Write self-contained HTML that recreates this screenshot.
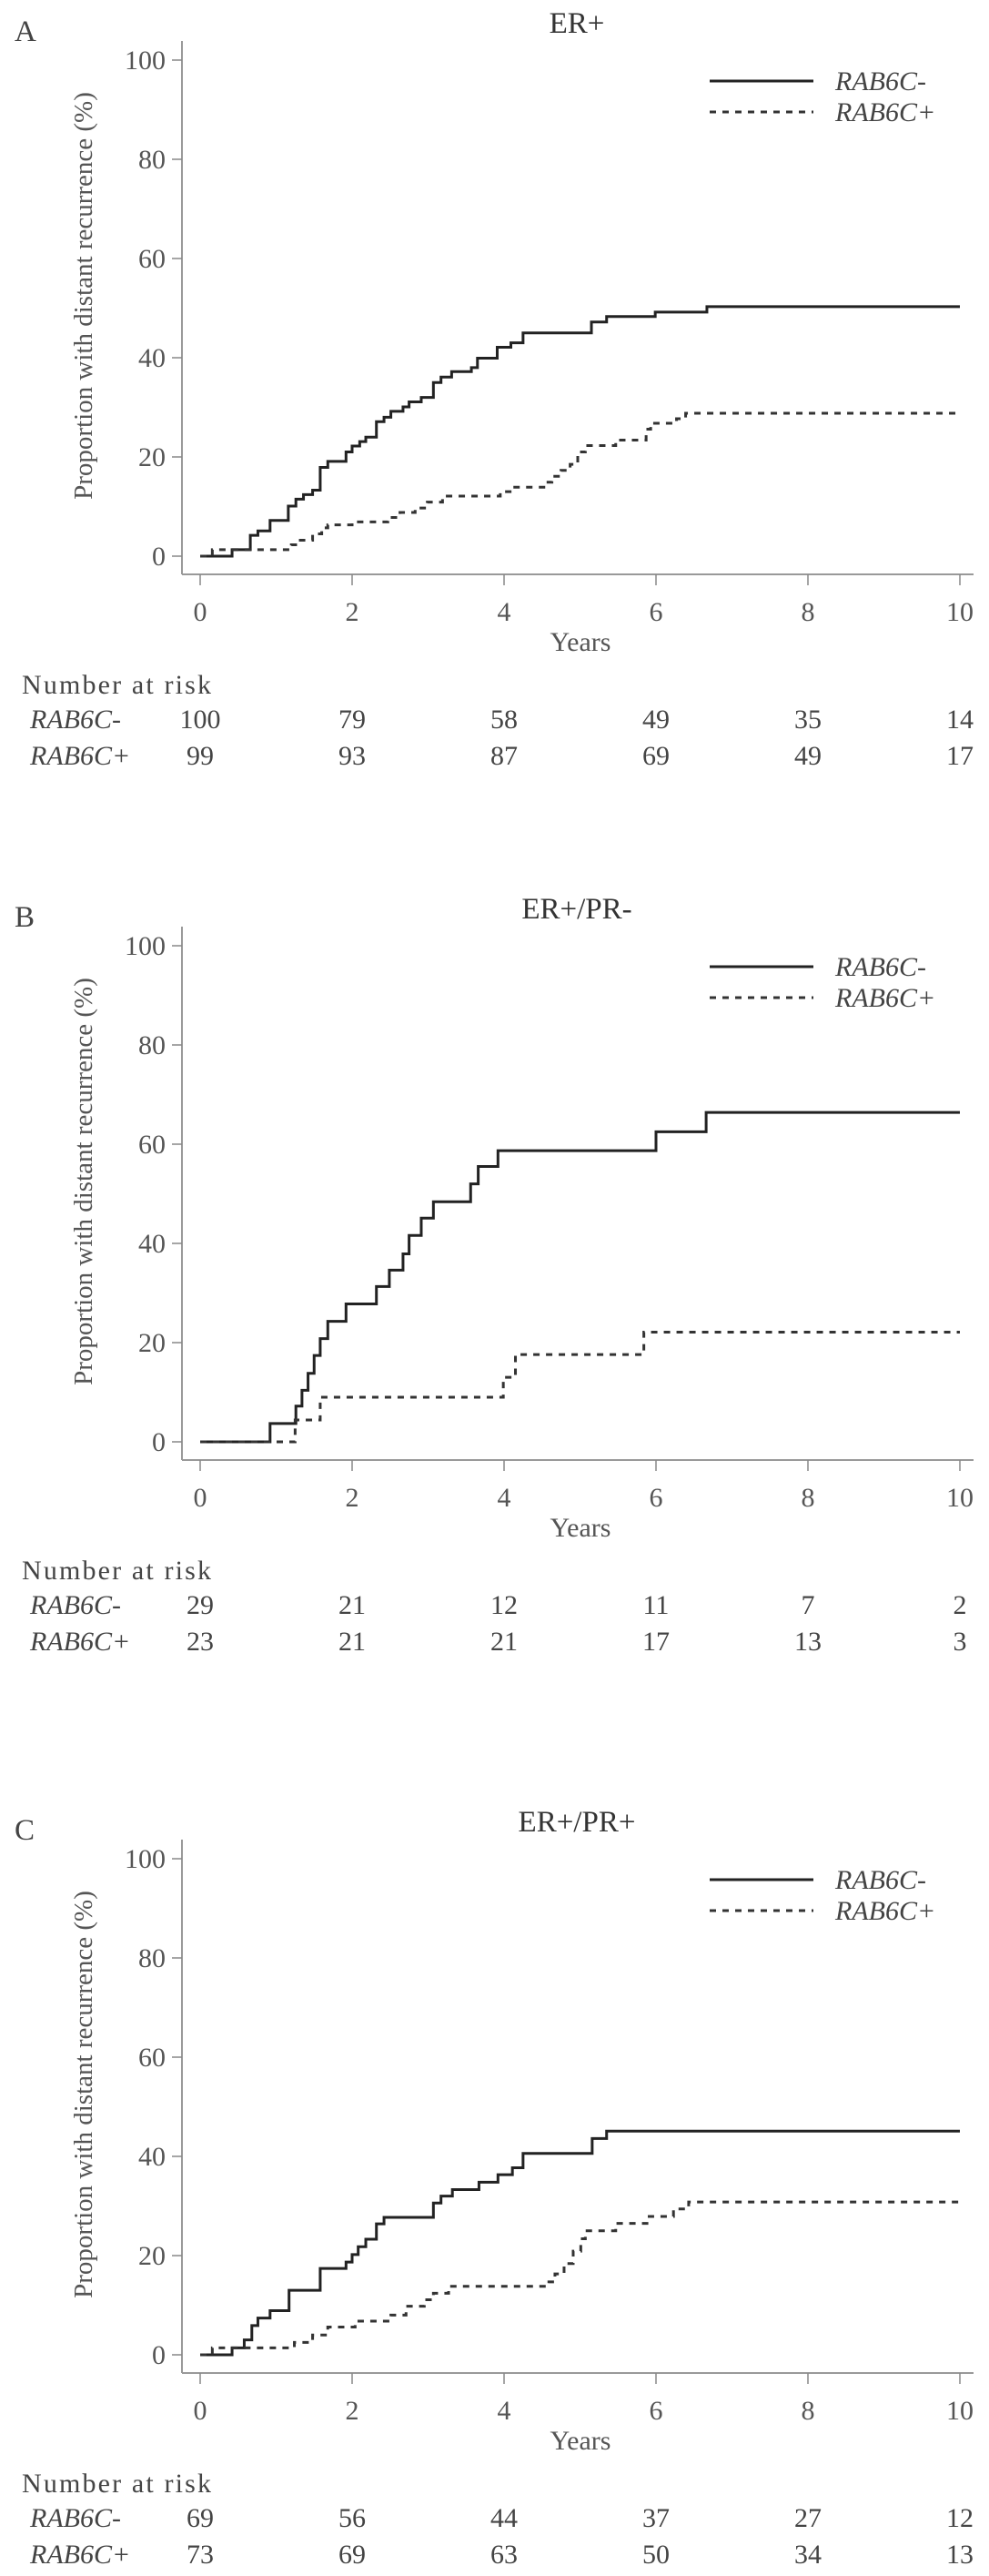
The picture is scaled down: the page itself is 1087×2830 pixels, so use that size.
<!DOCTYPE html>
<html><head><meta charset="utf-8"><style>
html,body{margin:0;padding:0;background:#fff;}
svg{display:block;font-family:"Liberation Serif",serif;}
</style></head><body>
<svg id="chart" width="1087" height="2830" viewBox="0 0 1087 2830" xmlns="http://www.w3.org/2000/svg"></svg>
<script>
const years=[0,2,4,6,8,10];
const yTicks=[0,20,40,60,80,100];
const panelLetters=["A","B","C"];
const panelTitles=["ER+","ER+/PR-","ER+/PR+"];
const panelOffsets=[0,973,1976];
// Panel A
const aNegT=[0,0.42,0.66,0.76,0.92,1.16,1.26,1.36,1.48,1.58,1.68,1.92,2.0,2.1,2.18,2.32,2.42,2.51,2.67,2.75,2.91,3.07,3.17,3.31,3.57,3.65,3.91,4.09,4.25,5.15,5.35,5.99,6.67,10];
const aNegV=[0,1.3,4.2,5.1,7.2,10.1,11.5,12.4,13.3,17.9,19.1,21.0,22.2,23.1,24.0,27.1,28.0,29.2,30.1,31.1,32.0,35.0,36.1,37.2,38.0,39.9,42.1,43.0,45.0,47.2,48.3,49.2,50.3,50.3];
const aPosT=[0,0.16,1.2,1.3,1.48,1.6,1.68,2.0,2.47,2.63,2.83,2.99,3.19,3.95,4.11,4.55,4.63,4.75,4.87,4.97,5.07,5.47,5.87,5.93,6.27,6.39,10];
const aPosV=[0,1.3,2.3,3.2,4.5,5.7,6.3,6.9,7.8,8.8,9.7,10.9,12.1,13.0,13.9,14.9,16.1,17.3,18.5,21.0,22.3,23.4,25.6,26.8,27.7,28.8,28.8];
// Panel B
const bNegT=[0,0.92,1.26,1.34,1.42,1.5,1.58,1.68,1.92,2.32,2.49,2.67,2.75,2.91,3.07,3.56,3.66,3.92,6.0,6.66,10];
const bNegV=[0,3.7,7.2,10.4,13.8,17.4,20.8,24.3,27.8,31.3,34.6,37.9,41.6,45.1,48.4,52.0,55.5,58.7,62.5,66.4,66.4];
const bPosT=[0,1.25,1.58,3.99,4.15,5.84,10];
const bPosV=[0,4.4,9.0,13.0,17.6,22.1,22.1];
// Panel C
const cNegT=[0,0.42,0.58,0.68,0.76,0.92,1.17,1.58,1.92,2.0,2.08,2.18,2.32,2.42,3.07,3.17,3.32,3.67,3.92,4.11,4.25,5.16,5.35,10];
const cNegV=[0,1.4,3.0,5.9,7.4,8.9,13.0,17.4,18.7,20.2,21.8,23.3,26.4,27.7,30.6,32.0,33.3,34.8,36.3,37.7,40.6,43.6,45.1,45.1];
const cPosT=[0,0.16,1.24,1.48,1.68,2.04,2.51,2.71,2.95,3.07,3.27,4.59,4.67,4.79,4.91,5.01,5.07,5.47,5.91,6.23,6.43,10];
const cPosV=[0,1.4,2.5,4.0,5.6,6.8,8.0,9.8,11.1,12.4,13.8,14.7,16.3,18.4,20.9,23.4,25.0,26.5,27.9,29.4,30.8,30.8];
const riskNeg=[[100,79,58,49,35,14],[29,21,12,11,7,2],[69,56,44,37,27,12]];
const riskPos=[[99,93,87,69,49,17],[23,21,21,17,13,3],[73,69,63,50,34,13]];
const series=[[aNegT,aNegV,aPosT,aPosV],[bNegT,bNegV,bPosT,bPosV],[cNegT,cNegV,cPosT,cPosV]];

const NS="http://www.w3.org/2000/svg";
const svg=document.getElementById('chart');
function xs(t){return 220+83.5*t;}
function ys(v,o){return 611-5.45*v+o;}
function mk(tag,attrs,parent,text){const e=document.createElementNS(NS,tag);for(const k in attrs)e.setAttribute(k,attrs[k]);if(text!==undefined)e.textContent=text;(parent||svg).appendChild(e);return e;}
function stepPath(T,V,o){let d="M"+xs(T[0])+","+ys(V[0],o);for(let i=1;i<T.length;i++){d+=" H"+xs(T[i])+" V"+ys(V[i],o);}return d;}

panelOffsets.forEach((o,p)=>{
  const g=mk('g',{});
  
  
  let e=mk('text',{x:16,y:45+o,'font-size':33,fill:'#444'},g,panelLetters[p]);
  
  
  e=mk('text',{x:634,y:36+o,'font-size':33,fill:'#333','text-anchor':'middle'},g,panelTitles[p]);
  
  
  e=mk('line',{x1:200,y1:45+o,x2:200,y2:631+o,stroke:'#999','stroke-width':2},g);
  
  
  e=mk('line',{x1:200,y1:631+o,x2:1070,y2:631+o,stroke:'#999','stroke-width':2},g);
  
  
  yTicks.forEach(v=>{
    e=mk('line',{x1:189,y1:ys(v,o),x2:200,y2:ys(v,o),stroke:'#888','stroke-width':1.5},g);
    
    
    e=mk('text',{x:182,y:ys(v,o)+10,'font-size':30,fill:'#555','text-anchor':'end'},g,String(v));
    
    
  });
  years.forEach(t=>{
    e=mk('line',{x1:xs(t),y1:631+o,x2:xs(t),y2:643+o,stroke:'#888','stroke-width':1.5},g);
    
    
    e=mk('text',{x:xs(t),y:682+o,'font-size':30,fill:'#555','text-anchor':'middle'},g,String(t));
    
    
  });
  e=mk('text',{x:638,y:715+o,'font-size':30,fill:'#555','text-anchor':'middle'},g,'Years');
  
  
  e=mk('text',{x:0,y:0,'font-size':29,fill:'#555','text-anchor':'middle',transform:'translate(101,'+(325+o)+') rotate(-90)'},g,'Proportion with distant recurrence (%)');
  
  
  const s=series[p];
  e=mk('path',{d:stepPath(s[0],s[1],o),fill:'none',stroke:'#222','stroke-width':3},g);
  
  
  e=mk('path',{d:stepPath(s[2],s[3],o),fill:'none',stroke:'#333','stroke-width':3,'stroke-dasharray':'7 7'},g);
  
  
  e=mk('line',{x1:780,y1:89+o,x2:894,y2:89+o,stroke:'#222','stroke-width':3},g);
  
  
  e=mk('text',{x:918,y:99+o,'font-size':30,fill:'#444','font-style':'italic'},g,'RAB6C-');
  
  
  e=mk('line',{x1:780,y1:123+o,x2:894,y2:123+o,stroke:'#333','stroke-width':3,'stroke-dasharray':'7 7'},g);
  
  
  e=mk('text',{x:918,y:133+o,'font-size':30,fill:'#444','font-style':'italic'},g,'RAB6C+');
  
  
  e=mk('text',{x:24,y:762+o,'font-size':30,fill:'#444',textLength:208},g,'Number at risk');
  
  
  e=mk('text',{x:33,y:800+o,'font-size':30,fill:'#444','font-style':'italic'},g,'RAB6C-');
  
  
  e=mk('text',{x:33,y:840+o,'font-size':30,fill:'#444','font-style':'italic'},g,'RAB6C+');
  
  
  years.forEach((t,i)=>{
    e=mk('text',{x:xs(t),y:800+o,'font-size':30,fill:'#444','text-anchor':'middle'},g,String(riskNeg[p][i]));
    
    
    e=mk('text',{x:xs(t),y:840+o,'font-size':30,fill:'#444','text-anchor':'middle'},g,String(riskPos[p][i]));
    
    
  });
});
</script>
</body></html>
